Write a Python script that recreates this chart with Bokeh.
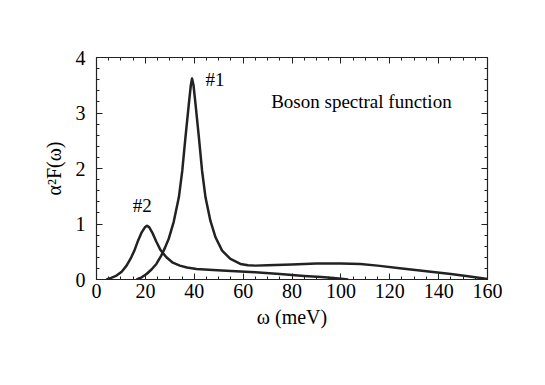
from bokeh.plotting import figure
from bokeh.models import LinearAxis, FixedTicker, Range1d, Label
from bokeh.embed import file_html
from bokeh.resources import INLINE

# Curve #1 (main boson peak)
w1 = [16.4, 18.5, 20.5, 22.5, 24.5, 26.5, 28, 29.6, 31.6, 33.7, 35.1, 36.4, 37.8, 38.6, 39.1,
      39.7, 40.5, 41.9, 43.2, 44.6, 46.6, 48.7, 51.4, 54.8, 58.9, 62, 65, 70, 80, 90, 100,
      108, 115, 125, 135, 145, 152, 160]
f1 = [0.0, 0.04, 0.1, 0.18, 0.28, 0.43, 0.57, 0.74, 1.04, 1.48, 1.96, 2.56, 3.17, 3.5, 3.62,
      3.5, 3.17, 2.56, 1.96, 1.48, 1.06, 0.76, 0.52, 0.37, 0.28, 0.255, 0.25, 0.255, 0.27, 0.29, 0.29,
      0.28, 0.25, 0.2, 0.15, 0.1, 0.06, 0.01]

# Curve #2 (low-energy peak)
w2 = [4.1, 6, 8.2, 10.3, 12.3, 14, 15.5, 17, 18.5, 19.8, 20.7, 21.6, 23, 24.5, 26.2, 28.6,
      31, 34.1, 37, 40.9, 47.7, 55, 65, 75, 85, 92, 97, 103]
f2 = [0.0, 0.03, 0.07, 0.14, 0.25, 0.38, 0.52, 0.7, 0.85, 0.94, 0.97, 0.94, 0.83, 0.68, 0.53, 0.4,
      0.31, 0.25, 0.215, 0.19, 0.17, 0.155, 0.13, 0.1, 0.065, 0.045, 0.025, 0.0]

x_ticks = [0, 20, 40, 60, 80, 100, 120, 140, 160]
y_ticks = [0, 1, 2, 3, 4]
x_minor = [v for v in range(0, 161, 5)]
y_minor = [i / 5 for i in range(0, 21)]

FONT = "Liberation Serif"
INK = "#222222"

p = figure(width=529, height=369, output_backend="svg", toolbar_location=None,
           x_range=Range1d(0, 160), y_range=Range1d(0, 4),
           min_border_left=96, min_border_right=42, min_border_top=57, min_border_bottom=90,
           x_axis_label="ω (meV)", y_axis_label="α²F(ω)")

p.xgrid.visible = False
p.ygrid.visible = False
p.outline_line_color = INK
p.outline_line_width = 1.2

p.line(w1, f1, line_color=INK, line_width=2.5, line_join="round")
p.line(w2, f2, line_color=INK, line_width=2.5, line_join="round")

p.xaxis.ticker = FixedTicker(ticks=x_ticks, minor_ticks=x_minor)
p.yaxis.ticker = FixedTicker(ticks=y_ticks, minor_ticks=y_minor)


def style_ticks(ax):
    ax.major_tick_in = 6
    ax.major_tick_out = 0
    ax.minor_tick_in = 3
    ax.minor_tick_out = 0
    ax.axis_line_color = INK
    ax.major_tick_line_color = INK
    ax.minor_tick_line_color = INK
    ax.major_tick_line_width = 1
    ax.minor_tick_line_width = 1


for ax in [p.xaxis[0], p.yaxis[0]]:
    style_ticks(ax)
    ax.major_label_text_font = FONT
    ax.major_label_text_font_size = "20px"
    ax.major_label_text_color = "black"
    ax.axis_label_text_font = FONT
    ax.axis_label_text_font_size = "20px"
    ax.axis_label_text_font_style = "normal"
    ax.axis_label_text_color = "black"

p.xaxis.major_label_standoff = 4
p.yaxis.major_label_standoff = 11
p.xaxis.axis_label_standoff = 5
p.yaxis.axis_label_standoff = 8

top = LinearAxis(ticker=FixedTicker(ticks=x_ticks, minor_ticks=x_minor))
right = LinearAxis(ticker=FixedTicker(ticks=y_ticks, minor_ticks=y_minor))
for ax in [top, right]:
    style_ticks(ax)
    ax.major_label_text_color = None
    ax.major_label_standoff = 0
p.add_layout(top, "above")
p.add_layout(right, "right")

p.add_layout(Label(x=48.5, y=3.6, text="#1", text_font=FONT, text_font_size="19px",
                   text_align="center", text_baseline="middle", text_color="black"))
p.add_layout(Label(x=18.7, y=1.33, text="#2", text_font=FONT, text_font_size="19px",
                   text_align="center", text_baseline="middle", text_color="black"))
p.add_layout(Label(x=108.4, y=3.2, text="Boson spectral function", text_font=FONT,
                   text_font_size="19px", text_align="center", text_baseline="middle",
                   text_color="black"))

open("out.html", "w").write(file_html(p, INLINE))
